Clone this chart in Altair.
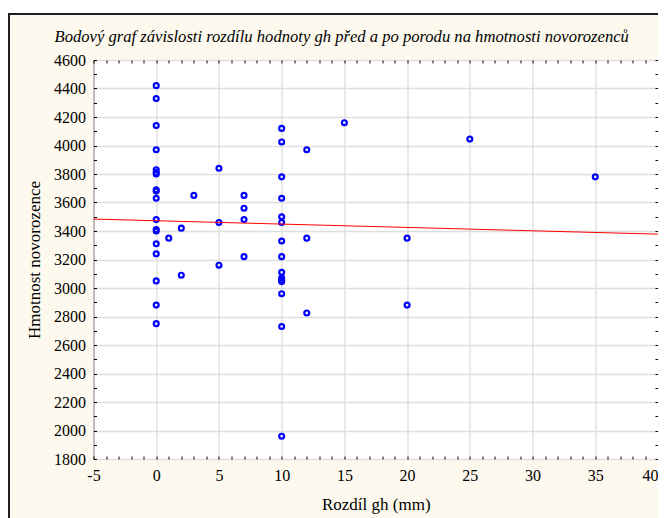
import altair as alt
import pandas as pd

# --- data ---
diff_gh = [0, 0, 0, 0, 0, 0, 0, 0, 0, 0, 0, 0, 0, 0, 0, 0, 0, 0,
           1, 2, 2, 3, 5, 5, 5, 7, 7, 7, 7,
           10, 10, 10, 10, 10, 10, 10, 10, 10, 10, 10, 10, 10, 10, 10,
           12, 12, 12, 15, 20, 20, 25, 35]
weight = [4420, 4330, 4140, 3970, 3830, 3810, 3800, 3690, 3680, 3630, 3480, 3410, 3400, 3310, 3240, 3050, 2880, 2750,
          3350, 3420, 3090, 3650, 3840, 3460, 3160, 3650, 3560, 3480, 3220,
          4120, 4025, 3780, 3630, 3500, 3460, 3330, 3220, 3110, 3070, 3055, 3045, 2960, 2730, 1960,
          3970, 3350, 2825, 4160, 3350, 2880, 4045, 3780]

fit_x = [-5, 40]
fit_intercept = 3472
fit_slope = -2.35

x_labels = list(range(-5, 41, 5))
y_labels = list(range(1800, 4601, 200))
x_minor = list(range(-5, 41, 1))
y_minor = list(range(1800, 4601, 100))

title_text = "Bodový graf závislosti rozdílu hodnoty gh před a po porodu na hmotnosti novorozenců"
x_title = "Rozdíl gh (mm)"
y_title = "Hmotnost novorozence"

pts = pd.DataFrame({"x": diff_gh, "y": weight})
fit = pd.DataFrame({"x": fit_x, "y": [fit_intercept + fit_slope * v for v in fit_x]})

W, H = 564.5, 399
FONT = "Liberation Serif"

xs = alt.Scale(domain=[-5, 40], nice=False, zero=False)
ys = alt.Scale(domain=[1800, 4600], nice=False, zero=False)

points = alt.Chart(pts).mark_point(
    filled=False, color="#0000ff", size=24, strokeWidth=2.2, opacity=1
).encode(
    x=alt.X("x:Q", scale=xs, axis=alt.Axis(
        values=x_labels, ticks=False, tickSize=0, grid=True, gridColor="#dedede", gridWidth=1.3,
        domain=False, labelPadding=8, labelFlush=False, labelOverlap=False,
        labelOffset={"condition": {"test": "datum.value == 40", "value": -8}, "value": 0},
        labelFont=FONT, labelFontSize=16, labelColor="black", labelExpr="'' + datum.value",
        title=x_title, titleFont=FONT, titleFontSize=17, titleFontWeight="normal",
        titleColor="black", titlePadding=13)),
    y=alt.Y("y:Q", scale=ys, axis=alt.Axis(
        values=y_labels, ticks=False, tickSize=0, grid=True, gridColor="#dedede", gridWidth=1.3,
        domain=False, labelPadding=8, labelFlush=False, labelOverlap=False,
        labelFont=FONT, labelFontSize=16, labelColor="black", labelExpr="'' + datum.value",
        title=y_title, titleFont=FONT, titleFontSize=17, titleFontWeight="normal",
        titleColor="black", titlePadding=10)),
)

line = alt.Chart(fit).mark_line(color="#ff0000", strokeWidth=1).encode(
    x=alt.X("x:Q", scale=xs, axis=alt.Axis(
        orient="top", offset=-H, values=x_minor, labels=False, grid=False, domain=False,
        ticks=True, tickSize=3, tickColor="black", tickWidth=1, title=None)),
    y=alt.Y("y:Q", scale=ys, axis=alt.Axis(
        orient="right", offset=-W, values=y_minor, labels=False, grid=False, domain=False,
        ticks=True, tickSize=3, tickColor="black", tickWidth=1, title=None)),
)

ticks2 = alt.Chart(fit).mark_line(opacity=0).encode(
    x=alt.X("x:Q", scale=xs, axis=alt.Axis(
        orient="bottom", offset=-H, values=x_minor, labels=False, grid=False, domain=False,
        ticks=True, tickSize=3, tickColor="black", tickWidth=1, title=None)),
    y=alt.Y("y:Q", scale=ys, axis=alt.Axis(
        orient="left", offset=-W, values=y_minor, labels=False, grid=False, domain=False,
        ticks=True, tickSize=3, tickColor="black", tickWidth=1, title=None)),
)

one = pd.DataFrame({"k": [0]})
strip = alt.Chart(one).mark_rect(color="white").encode(
    x=alt.value(-86), x2=alt.value(W + 8), y=alt.value(-53), y2=alt.value(-47))
border_top = alt.Chart(one).mark_rule(color="#1e1e1e", strokeWidth=2).encode(
    x=alt.value(-86), x2=alt.value(W + 8), y=alt.value(-46))
border_left = alt.Chart(one).mark_rule(color="#1e1e1e", strokeWidth=2).encode(
    x=alt.value(-84.5), y=alt.value(-47), y2=alt.value(H + 70))

chart = alt.layer(strip, border_top, border_left, points, line, ticks2).resolve_axis(
    x="independent", y="independent"
).properties(
    width=W, height=H,
    autosize=alt.AutoSizeParams(type="none"),
    padding={"left": 85.5, "top": 52, "right": 0, "bottom": 59},
    background="#fdf9ee",
    title=alt.TitleParams(
        text=title_text, font=FONT, fontSize=16.6, fontStyle="italic", fontWeight="normal",
        color="black", anchor="middle", dx=-34, offset=-55, baseline="bottom"),
).configure_view(stroke="black", strokeWidth=1, fill="white")

chart.save("out.html", embed_options={"renderer": "svg", "actions": False})
